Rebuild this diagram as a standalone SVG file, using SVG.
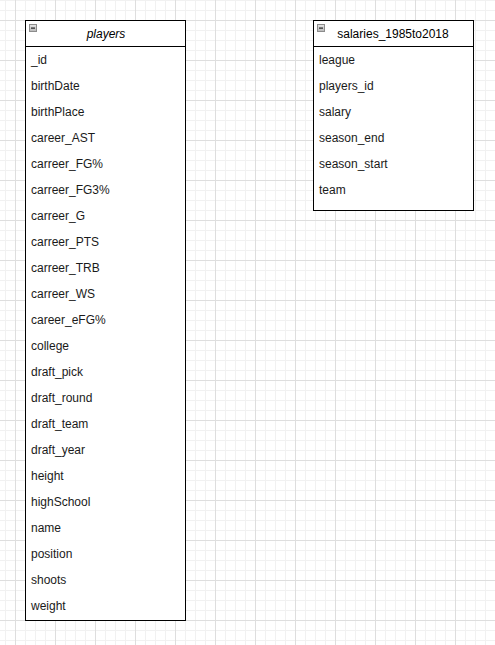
<svg xmlns="http://www.w3.org/2000/svg" width="495" height="645" viewBox="0 0 495 645">
  <defs>
    <pattern id="minor" width="10" height="10" patternUnits="userSpaceOnUse" x="5" y="0">
      <path d="M0.5 0V10M0 0.5H10" fill="none" stroke="#f1f1f1" stroke-width="1"/>
    </pattern>
    <pattern id="major" width="40" height="40" patternUnits="userSpaceOnUse" x="15" y="20">
      <path d="M0.5 0V40M0 0.5H40" fill="none" stroke="#dedede" stroke-width="1"/>
    </pattern>
    <linearGradient id="iconfill" x1="0" y1="0" x2="0" y2="1">
      <stop offset="0" stop-color="#e6e6e6"/>
      <stop offset="1" stop-color="#b8b8b8"/>
    </linearGradient>
    <g id="minus">
      <rect x="0.5" y="0.5" width="7" height="7" fill="url(#iconfill)" stroke="#8c8c8c" stroke-width="1"/>
      <rect x="2" y="3.5" width="4" height="1.2" fill="#222"/>
    </g>
  </defs>
  <style>
    .box { fill: #ffffff; stroke: #000000; stroke-width: 1; }
    .sep { stroke: #000000; stroke-width: 1; fill: none; }
    .title { font-family: "Liberation Sans", Arial, sans-serif; font-size: 12px; fill: #000000; text-anchor: middle; }
    .row { font-family: "Liberation Sans", Arial, sans-serif; font-size: 12px; fill: #1a1a1a; }
  </style>
  <rect x="0" y="0" width="495" height="645" fill="#ffffff"/>
  <rect x="0" y="0" width="495" height="645" fill="url(#minor)"/>
  <rect x="0" y="0" width="495" height="645" fill="url(#major)"/>

  <g id="players">
    <rect class="box" x="25.5" y="20.5" width="160" height="600"/>
    <line class="sep" x1="25.5" y1="46.5" x2="185.5" y2="46.5"/>
    <use href="#minus" x="29" y="24"/>
    <text class="title" x="106" y="38" font-style="italic">players</text>
    <text class="row" x="31" y="64">_id</text>
    <text class="row" x="31" y="90">birthDate</text>
    <text class="row" x="31" y="116">birthPlace</text>
    <text class="row" x="31" y="142">career_AST</text>
    <text class="row" x="31" y="168">carreer_FG%</text>
    <text class="row" x="31" y="194">carreer_FG3%</text>
    <text class="row" x="31" y="220">carreer_G</text>
    <text class="row" x="31" y="246">carreer_PTS</text>
    <text class="row" x="31" y="272">carreer_TRB</text>
    <text class="row" x="31" y="298">carreer_WS</text>
    <text class="row" x="31" y="324">career_eFG%</text>
    <text class="row" x="31" y="350">college</text>
    <text class="row" x="31" y="376">draft_pick</text>
    <text class="row" x="31" y="402">draft_round</text>
    <text class="row" x="31" y="428">draft_team</text>
    <text class="row" x="31" y="454">draft_year</text>
    <text class="row" x="31" y="480">height</text>
    <text class="row" x="31" y="506">highSchool</text>
    <text class="row" x="31" y="532">name</text>
    <text class="row" x="31" y="558">position</text>
    <text class="row" x="31" y="584">shoots</text>
    <text class="row" x="31" y="610">weight</text>
  </g>

  <g id="salaries_1985to2018">
    <rect class="box" x="313.5" y="20.5" width="160" height="190"/>
    <line class="sep" x1="313.5" y1="46.5" x2="473.5" y2="46.5"/>
    <use href="#minus" x="317" y="24"/>
    <text class="title" x="393" y="38">salaries_1985to2018</text>
    <text class="row" x="319" y="64">league</text>
    <text class="row" x="319" y="90">players_id</text>
    <text class="row" x="319" y="116">salary</text>
    <text class="row" x="319" y="142">season_end</text>
    <text class="row" x="319" y="168">season_start</text>
    <text class="row" x="319" y="194">team</text>
  </g>

  <g id="connectors"></g>
</svg>
